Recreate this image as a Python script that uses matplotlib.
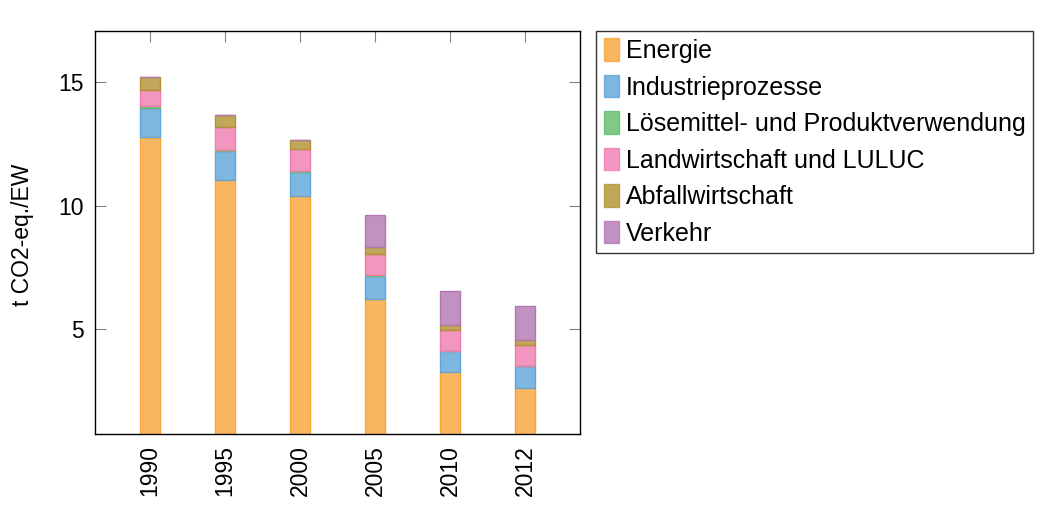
import numpy as np
import matplotlib.pyplot as plt
from matplotlib.patches import Patch

plt.rcParams["font.family"] = ["Liberation Sans", "DejaVu Sans"]

years = ["1990", "1995", "2000", "2005", "2010", "2012"]

energie = [12.77, 11.04, 10.38, 6.23, 3.27, 2.62]
industrie = [1.19, 1.17, 0.98, 0.92, 0.85, 0.89]
loesemittel = [0.07, 0.05, 0.04, 0.04, 0.02, 0.02]
landwirtschaft = [0.65, 0.92, 0.89, 0.85, 0.83, 0.82]
abfall = [0.52, 0.48, 0.36, 0.28, 0.19, 0.20]
verkehr = [0.0, 0.0, 0.0, 1.29, 1.38, 1.38]

series = [
    ("Energie", energie, "#FAA43A"),
    ("Industrieprozesse", industrie, "#5DA5DA"),
    ("Lösemittel- und Produktverwendung", loesemittel, "#60BD68"),
    ("Landwirtschaft und LULUC", landwirtschaft, "#F17CB0"),
    ("Abfallwirtschaft", abfall, "#B2912F"),
    ("Verkehr", verkehr, "#B276B2"),
]

fs = 16.5
fig = plt.figure(figsize=(10.52, 5.13), dpi=100)
ax = fig.add_axes([95 / 1052, 1 - 434 / 513, 485 / 1052, 403 / 513])

x = np.arange(len(years))
bottom = np.zeros(len(years))
handles = []
for name, vals, col in series:
    vals = np.array(vals)
    # translucent fill plus a full-colour outline, like the original
    ax.bar(x, vals, width=0.27, bottom=bottom, color=col, alpha=0.8,
           edgecolor="none", zorder=2)
    ax.bar(x, vals, width=0.27, bottom=bottom, facecolor="none",
           edgecolor=col, linewidth=1.0, zorder=3)
    bottom += vals
    handles.append(Patch(facecolor=col, alpha=0.8, edgecolor=col, linewidth=1.0))

ax.set_xlim(-0.733, 5.733)
ax.set_ylim(0.76, 17.08)
ax.set_yticks([5, 10, 15])
ax.set_xticks(x)
ax.set_xticklabels(years, rotation=90, fontsize=fs)
ax.tick_params(axis="y", direction="in", length=8, color="#808080",
               left=True, right=True, labelsize=fs, pad=8)
ax.tick_params(axis="x", direction="in", length=8, color="#808080",
               bottom=False, top=True, labelsize=fs, pad=8)
for s in ax.spines.values():
    s.set_linewidth(1.0)
    s.set_zorder(5)

fig.text(22 / 1052, 1 - 235 / 513, "t CO2-eq./EW", rotation=90, fontsize=fs,
         ha="center", va="center")

leg = fig.legend(handles, [s[0] for s in series],
                 loc="upper left", bbox_to_anchor=(596 / 1052, 1 - 31 / 513),
                 fontsize=18, frameon=True, fancybox=False,
                 handlelength=0.6, handleheight=1.0, handletextpad=0.3,
                 labelspacing=0.47, borderpad=0.3, borderaxespad=0)
leg.get_frame().set_edgecolor("black")
leg.get_frame().set_linewidth(1.0)

fig.savefig("out.png", dpi=100)
